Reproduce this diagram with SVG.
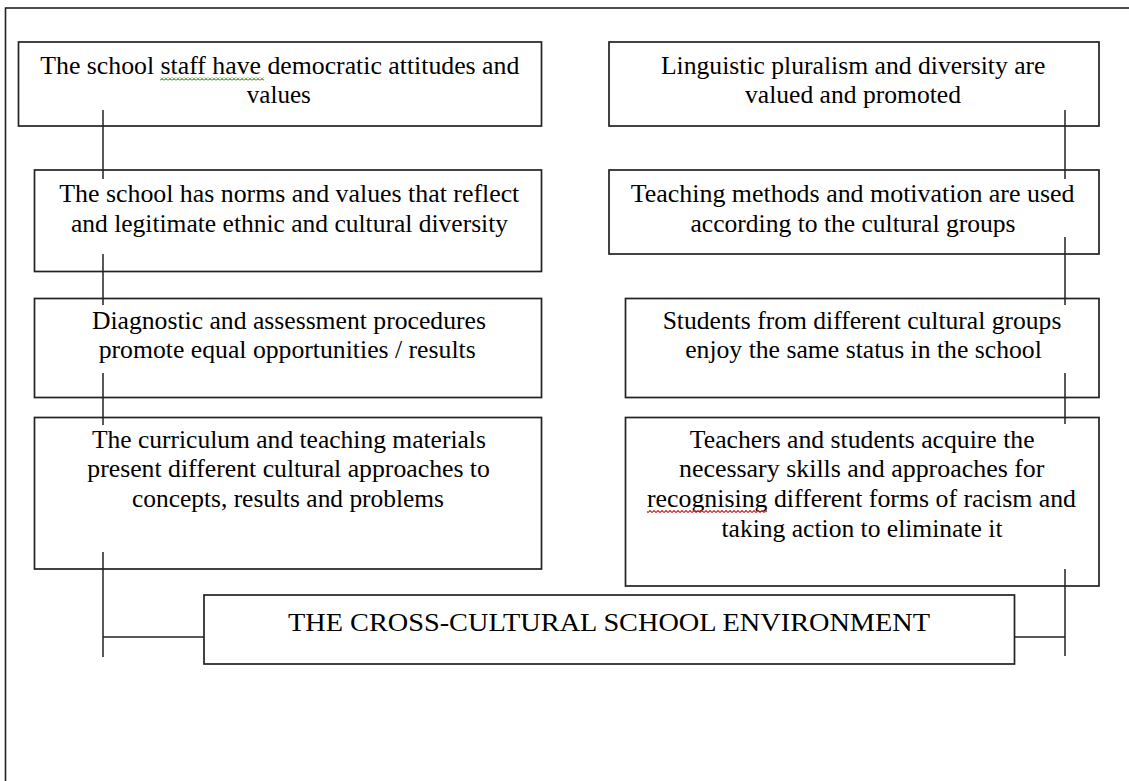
<svg xmlns="http://www.w3.org/2000/svg" width="1129" height="781" viewBox="0 0 1129 781">
<style>
.box{fill:none;stroke:#222;stroke-width:1.7}
.frame{fill:none;stroke:#222;stroke-width:1.6}
.con{stroke:#222;stroke-width:1.5;fill:none}
text{font-family:"Liberation Serif","Times New Roman",serif;font-size:25px;fill:#000;text-anchor:middle}
</style>
<defs>
<pattern id="sqG" width="4" height="3" patternUnits="userSpaceOnUse">
<polyline points="0,2.5 2,0.5 4,2.5" fill="none" stroke="#5d9a3c" stroke-width="1.2"/>
</pattern>
<pattern id="sqR" width="4" height="3" patternUnits="userSpaceOnUse">
<polyline points="0,2.5 2,0.5 4,2.5" fill="none" stroke="#d02a2a" stroke-width="1.2"/>
</pattern>
</defs>
<rect width="1129" height="781" fill="#fff"/>
<rect class="frame" x="5.5" y="8" width="1200" height="900"/>

<g id="connectors">
<line class="con" x1="103" y1="110" x2="103" y2="179"/>
<line class="con" x1="103" y1="254" x2="103" y2="305"/>
<line class="con" x1="103" y1="373" x2="103" y2="425"/>
<line class="con" x1="103" y1="552" x2="103" y2="657"/>
<line class="con" x1="103" y1="637" x2="204" y2="637"/>
<line class="con" x1="1065" y1="110" x2="1065" y2="179"/>
<line class="con" x1="1065" y1="237" x2="1065" y2="305"/>
<line class="con" x1="1065" y1="373" x2="1065" y2="424"/>
<line class="con" x1="1065" y1="569" x2="1065" y2="656"/>
<line class="con" x1="1014.5" y1="637" x2="1065" y2="637"/>
</g>

<g id="node-l1">
<rect class="box" x="18.5" y="42" width="523" height="84"/>
<text x="279.8" y="74" textLength="479" lengthAdjust="spacingAndGlyphs">The school staff have democratic attitudes and</text>
<text x="278.8" y="103" textLength="64" lengthAdjust="spacingAndGlyphs">values</text>
<rect x="160" y="77.5" width="104" height="3" fill="url(#sqG)"/>
</g>
<g id="node-l2">
<rect class="box" x="34.5" y="170" width="507" height="101.5"/>
<text x="289.3" y="202.3" textLength="460" lengthAdjust="spacingAndGlyphs">The school has norms and values that reflect</text>
<text x="289.5" y="231.7" textLength="437" lengthAdjust="spacingAndGlyphs">and legitimate ethnic and cultural diversity</text>
</g>
<g id="node-l3">
<rect class="box" x="34.5" y="298.5" width="507" height="99"/>
<text x="288.9" y="329" textLength="394" lengthAdjust="spacingAndGlyphs">Diagnostic and assessment procedures</text>
<text x="287.2" y="358.3" textLength="377" lengthAdjust="spacingAndGlyphs">promote equal opportunities / results</text>
</g>
<g id="node-l4">
<rect class="box" x="34.5" y="417.5" width="507" height="151.5"/>
<text x="288.9" y="447.7" textLength="394" lengthAdjust="spacingAndGlyphs">The curriculum and teaching materials</text>
<text x="288.6" y="477.3" textLength="402.6" lengthAdjust="spacingAndGlyphs">present different cultural approaches to</text>
<text x="288" y="507.3" textLength="312" lengthAdjust="spacingAndGlyphs">concepts, results and problems</text>
</g>
<g id="node-r1">
<rect class="box" x="609" y="42" width="490" height="84"/>
<text x="853.2" y="74" textLength="384.6" lengthAdjust="spacingAndGlyphs">Linguistic pluralism and diversity are</text>
<text x="853" y="103" textLength="216" lengthAdjust="spacingAndGlyphs">valued and promoted</text>
</g>
<g id="node-r2">
<rect class="box" x="609" y="170" width="490" height="84"/>
<text x="852.6" y="202.3" textLength="443.7" lengthAdjust="spacingAndGlyphs">Teaching methods and motivation are used</text>
<text x="853" y="231.7" textLength="325" lengthAdjust="spacingAndGlyphs">according to the cultural groups</text>
</g>
<g id="node-r3">
<rect class="box" x="625.5" y="298.5" width="473.5" height="99"/>
<text x="862" y="329" textLength="398.7" lengthAdjust="spacingAndGlyphs">Students from different cultural groups</text>
<text x="863.5" y="358.3" textLength="356.7" lengthAdjust="spacingAndGlyphs">enjoy the same status in the school</text>
</g>
<g id="node-r4">
<rect class="box" x="625.5" y="417.5" width="473.5" height="168.5"/>
<text x="862.2" y="447.7" textLength="344.7" lengthAdjust="spacingAndGlyphs">Teachers and students acquire the</text>
<text x="861.7" y="477.3" textLength="365.4" lengthAdjust="spacingAndGlyphs">necessary skills and approaches for</text>
<text x="861.5" y="507.3" textLength="429" lengthAdjust="spacingAndGlyphs">recognising different forms of racism and</text>
<text x="862" y="537.3" textLength="281" lengthAdjust="spacingAndGlyphs">taking action to eliminate it</text>
<rect x="647" y="510" width="120" height="3" fill="url(#sqR)"/>
</g>
<g id="node-bottom">
<rect class="box" x="204" y="595" width="810.5" height="69" style="fill:#fff"/>
<text x="609" y="631" textLength="642" lengthAdjust="spacingAndGlyphs">THE CROSS-CULTURAL SCHOOL ENVIRONMENT</text>
</g>
</svg>
